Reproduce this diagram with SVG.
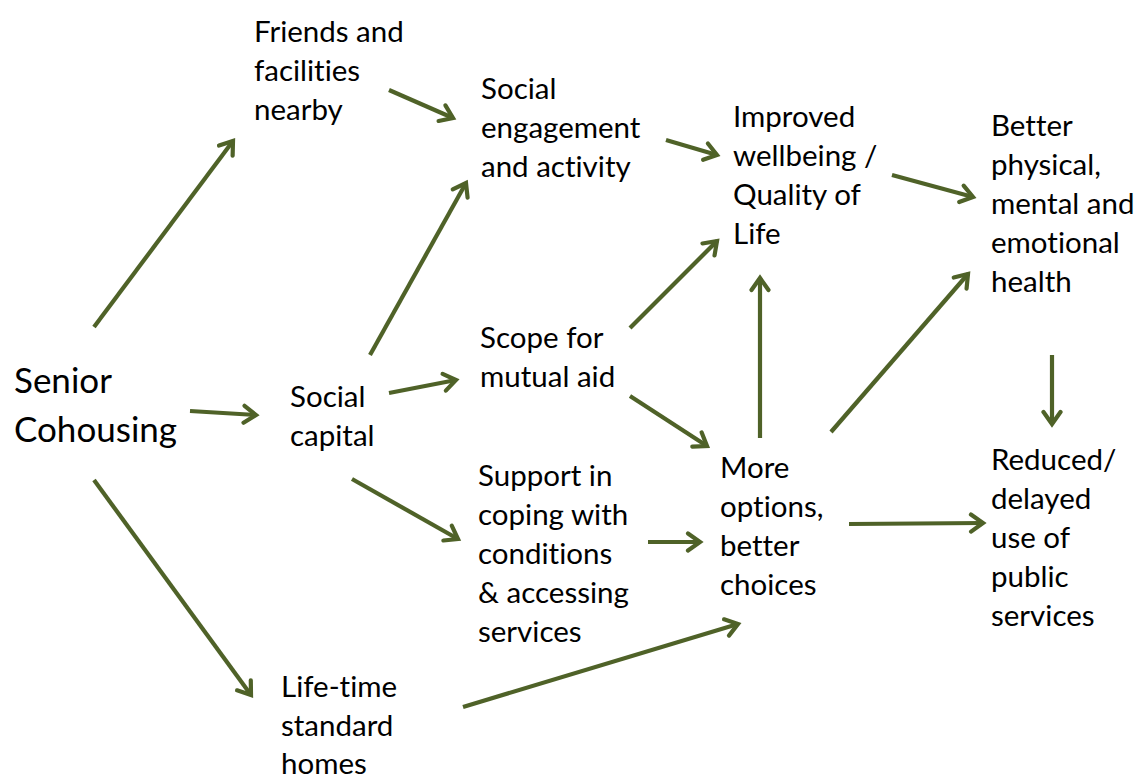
<svg xmlns="http://www.w3.org/2000/svg" width="1142" height="776" viewBox="0 0 1142 776">
  <style>
    .lbl { font-family: Lato, "Open Sans", "Liberation Sans", sans-serif; font-size: 29.5px; fill: #000; font-variant-ligatures: none; font-feature-settings: "liga" 0, "clig" 0; }
    .big { font-size: 35px; }
    .arr { stroke: #4f6228; stroke-width: 4.2; fill: none; marker-end: url(#head); }
  </style>
  <defs>
    <marker id="head" viewBox="0 0 22 22" refX="17" refY="11" markerWidth="22" markerHeight="22" markerUnits="userSpaceOnUse" orient="auto">
      <path d="M5,2.5 L17,11 L5,19.5" fill="none" stroke="#4f6228" stroke-width="4.2" stroke-linecap="round" stroke-linejoin="miter"/>
    </marker>
  </defs>
  <rect width="1142" height="776" fill="#fff"/>

  <g id="connectors">
    <line class="arr" x1="94" y1="327" x2="233" y2="141"/>
    <line class="arr" x1="389" y1="90" x2="453" y2="118"/>
    <line class="arr" x1="666" y1="140" x2="717" y2="155"/>
    <line class="arr" x1="892" y1="175" x2="973" y2="197"/>
    <line class="arr" x1="370" y1="355" x2="466" y2="183"/>
    <line class="arr" x1="630" y1="328" x2="717" y2="241"/>
    <line class="arr" x1="190" y1="411" x2="256" y2="415"/>
    <line class="arr" x1="389" y1="393" x2="456" y2="380"/>
    <line class="arr" x1="630" y1="396" x2="707" y2="446"/>
    <line class="arr" x1="760" y1="438" x2="760" y2="278"/>
    <line class="arr" x1="831" y1="432" x2="968" y2="274"/>
    <line class="arr" x1="1052" y1="355" x2="1052" y2="424"/>
    <line class="arr" x1="352" y1="479" x2="458" y2="539"/>
    <line class="arr" x1="648" y1="542" x2="700" y2="542"/>
    <line class="arr" x1="849" y1="524" x2="983" y2="523"/>
    <line class="arr" x1="94" y1="480" x2="251" y2="695"/>
    <line class="arr" x1="463" y1="707" x2="738" y2="624"/>
  </g>

  <g id="senior-cohousing">
    <text class="lbl big" x="14" y="393">Senior</text>
    <text class="lbl big" x="14" y="442">Cohousing</text>
  </g>
  <g id="friends-facilities">
    <text class="lbl" x="254" y="42">Friends and</text>
    <text class="lbl" x="254" y="81">facilities</text>
    <text class="lbl" x="254" y="120">nearby</text>
  </g>
  <g id="social-engagement">
    <text class="lbl" x="481" y="99">Social</text>
    <text class="lbl" x="481" y="138">engagement</text>
    <text class="lbl" x="481" y="177">and activity</text>
  </g>
  <g id="improved-wellbeing">
    <text class="lbl" x="733" y="127">Improved</text>
    <text class="lbl" x="733" y="166">wellbeing /</text>
    <text class="lbl" x="733" y="205">Quality of</text>
    <text class="lbl" x="733" y="244">Life</text>
  </g>
  <g id="better-health">
    <text class="lbl" x="991" y="136">Better</text>
    <text class="lbl" x="991" y="175">physical,</text>
    <text class="lbl" x="991" y="214">mental and</text>
    <text class="lbl" x="991" y="253">emotional</text>
    <text class="lbl" x="991" y="292">health</text>
  </g>
  <g id="social-capital">
    <text class="lbl" x="290" y="407">Social</text>
    <text class="lbl" x="290" y="446">capital</text>
  </g>
  <g id="mutual-aid">
    <text class="lbl" x="480" y="348">Scope for</text>
    <text class="lbl" x="480" y="387">mutual aid</text>
  </g>
  <g id="support-coping">
    <text class="lbl" x="478" y="486">Support in</text>
    <text class="lbl" x="478" y="525">coping with</text>
    <text class="lbl" x="478" y="564">conditions</text>
    <text class="lbl" x="478" y="603">&amp; accessing</text>
    <text class="lbl" x="478" y="642">services</text>
  </g>
  <g id="more-options">
    <text class="lbl" x="720" y="478">More</text>
    <text class="lbl" x="720" y="517">options,</text>
    <text class="lbl" x="720" y="556">better</text>
    <text class="lbl" x="720" y="595">choices</text>
  </g>
  <g id="reduced-services">
    <text class="lbl" x="991" y="470">Reduced/</text>
    <text class="lbl" x="991" y="509">delayed</text>
    <text class="lbl" x="991" y="548">use of</text>
    <text class="lbl" x="991" y="587">public</text>
    <text class="lbl" x="991" y="626">services</text>
  </g>
  <g id="lifetime-homes">
    <text class="lbl" x="281" y="697">Life-time</text>
    <text class="lbl" x="281" y="736">standard</text>
    <text class="lbl" x="281" y="774">homes</text>
  </g>
</svg>
